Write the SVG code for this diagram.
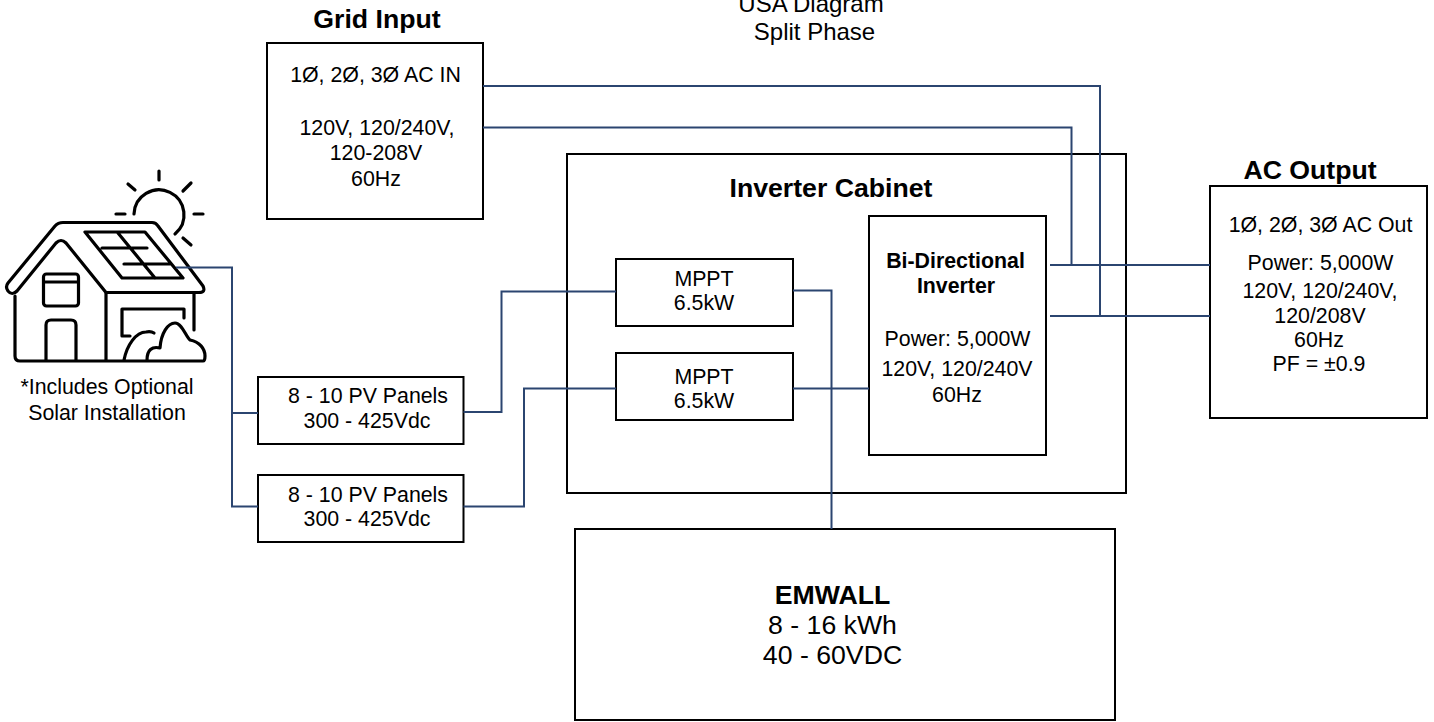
<svg xmlns="http://www.w3.org/2000/svg" width="1434" height="722" viewBox="0 0 1434 722">
<style>
text{font-family:"Liberation Sans",Arial,sans-serif;fill:#000;text-anchor:middle}
.box{fill:#fff;stroke:#000;stroke-width:2}
.w{stroke:#2b4570;stroke-width:2;fill:none}
.ic{stroke:#000;stroke-width:3.200;fill:none;stroke-linecap:round;stroke-linejoin:round}
.n{font-size:21.330px}.h{font-size:26.670px;font-weight:bold}.nb{font-size:21.330px;font-weight:bold}
.l{font-size:26.670px}.tt{font-size:24px}
</style>
<rect width="1434" height="722" fill="#fff"/>
<g id="titles">
<text x="811" y="12" class="tt">USA Diagram</text>
<text x="814.500" y="40" class="tt">Split Phase</text>
</g>
<g id="grid-input">
<text x="377" y="28" class="h">Grid Input</text>
<rect class="box" x="267" y="43" width="216" height="176"/>
<text x="375.500" y="82" class="n">1Ø, 2Ø, 3Ø AC IN</text>
<text x="377" y="135" class="n">120V, 120/240V,</text>
<text x="376" y="160" class="n">120-208V</text>
<text x="376" y="186" class="n">60Hz</text>
</g>
<g id="inverter-cabinet">
<rect class="box" x="567" y="154" width="559" height="339"/>
<text x="831" y="197" class="h">Inverter Cabinet</text>
</g>
<g id="mppt-1">
<rect class="box" x="616" y="259" width="177" height="67"/>
<text x="704" y="286" class="n">MPPT</text>
<text x="704" y="310" class="n">6.5kW</text>
</g>
<g id="mppt-2">
<rect class="box" x="616" y="353" width="177" height="67"/>
<text x="704" y="384" class="n">MPPT</text>
<text x="704" y="408" class="n">6.5kW</text>
</g>
<g id="inverter">
<rect class="box" x="869" y="216" width="177" height="239"/>
<text x="955.500" y="268" class="nb">Bi-Directional</text>
<text x="956" y="293" class="nb">Inverter</text>
<text x="957.500" y="346" class="n">Power: 5,000W</text>
<text x="957" y="376" class="n">120V, 120/240V</text>
<text x="957" y="402" class="n">60Hz</text>
</g>
<g id="ac-output">
<text x="1310" y="179" class="h">AC Output</text>
<rect class="box" x="1210" y="186" width="217" height="232"/>
<text x="1320.500" y="232" class="n">1Ø, 2Ø, 3Ø AC Out</text>
<text x="1320.500" y="270" class="n">Power: 5,000W</text>
<text x="1320" y="298" class="n">120V, 120/240V,</text>
<text x="1320" y="323" class="n">120/208V</text>
<text x="1319" y="347" class="n">60Hz</text>
<text x="1319" y="371" class="n">PF = ±0.9</text>
</g>
<g id="pv-1">
<rect class="box" x="258" y="377" width="205.500" height="67"/>
<text x="368" y="403" class="n">8 - 10 PV Panels</text>
<text x="367" y="428" class="n">300 - 425Vdc</text>
</g>
<g id="pv-2">
<rect class="box" x="258" y="475" width="205.500" height="67"/>
<text x="368" y="502" class="n">8 - 10 PV Panels</text>
<text x="367" y="526" class="n">300 - 425Vdc</text>
</g>
<g id="emwall">
<rect class="box" x="575" y="529" width="540" height="191"/>
<text x="832.500" y="604" class="h">EMWALL</text>
<text x="832.500" y="634" class="l">8 - 16 kWh</text>
<text x="832.500" y="664" class="l">40 - 60VDC</text>
</g>
<g id="solar-house">
<g class="ic">
<path d="M159 171V180M128 184L135 190M191 183L183 191M116 214H125M194 214H203M183 238L191 245"/>
<path d="M134 214A25 25 0 1 1 175 234"/>
<path d="M8 283L55 226Q58 222.500 63 222.500H152Q156 222.500 158 226L203 286Q206 292.500 199 292.500H106L66 243Q61 238 56 243L17 291Q12 296 8 291Q5 287 8 283Z"/>
<path d="M15 296V356Q15 361 20 361H203Q205 361 205 356C205 349 200 342 190 340C186 337 182 323 175 323C168 323 161 333 160 348C152 346 147 350 147 360M124 360C127 345 136 332 146 332Q151 331 154 333"/>
<path d="M106 293V360M194 293V330"/>
<rect x="43.500" y="274" width="35" height="32" rx="3"/>
<path d="M44 282H78"/>
<path d="M46 360V325Q46 320 51 320H71Q76 320 76 325V360"/>
<path d="M130 336H122V309H184V318"/>
<path d="M85 232H145L183 278H122ZM102 248H147M124 264H170M118 233L155 278"/>
</g>
<text x="107" y="394" class="n">*Includes Optional</text>
<text x="107" y="420" class="n">Solar Installation</text>
</g>
<g id="connectors">
<path class="w" d="M176 267.500H232V506.500H258M232 413H258"/>
<path class="w" d="M463.500 412H501.500V291.500H616"/>
<path class="w" d="M463.500 506.500H524V388.500H616"/>
<path class="w" d="M793 290.500H831.500V529"/>
<path class="w" d="M793 388.500H869"/>
<path class="w" d="M483 86H1100V316"/>
<path class="w" d="M483 127.500H1071.500V265"/>
<path class="w" d="M1050 265H1210"/>
<path class="w" d="M1050 316H1210"/>
</g>
</svg>
